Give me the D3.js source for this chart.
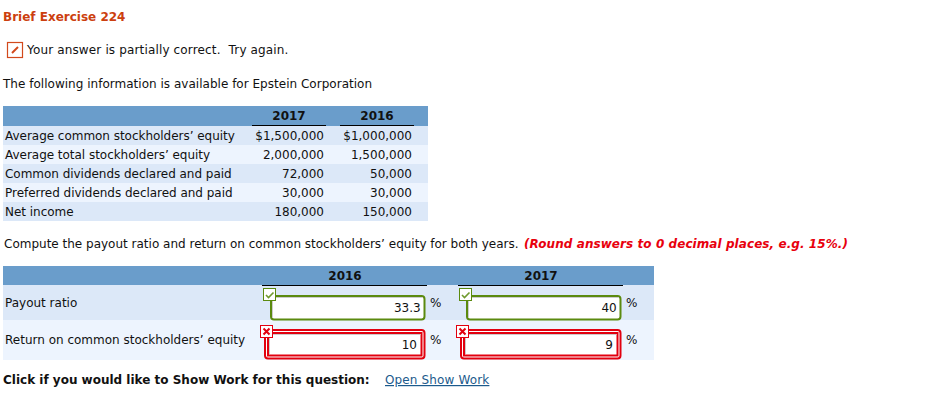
<!DOCTYPE html>
<html><head><meta charset="utf-8">
<script src="https://cdn.jsdelivr.net/npm/d3@7/dist/d3.min.js"></script>
<style>
html,body{margin:0;padding:0;background:#fff}
svg{display:block}
text{font-family:"DejaVu Sans",sans-serif;font-size:12px;fill:#111}
</style></head><body>
<svg id="c" width="939" height="413"></svg>
<script>
const infoYears = ["2017","2016"];
const infoRows = ["Average common stockholders’ equity","Average total stockholders’ equity","Common dividends declared and paid","Preferred dividends declared and paid","Net income"];
const values2017 = ["$1,500,000","2,000,000","72,000","30,000","180,000"];
const values2016 = ["$1,000,000","1,500,000","50,000","30,000","150,000"];
const answerYears = ["2016","2017"];
const answerRows = ["Payout ratio","Return on common stockholders’ equity"];
const answers2016 = ["33.3","10"];
const answers2017 = ["40","9"];
const answerOk = [true,false];

const svg = d3.select("#c");
const txt=(x,y,s,o={})=>{const t=svg.append("text").attr("x",x).attr("y",y).text(s);
  Object.entries(o).forEach(([k,v])=>t.style(k,v)); return t;};
const rect=(x,y,w,h,f,o={})=>{const r=svg.append("rect").attr("x",x).attr("y",y).attr("width",w).attr("height",h).attr("fill",f);
  Object.entries(o).forEach(([k,v])=>r.attr(k,v)); return r;};

txt(3,21,"Brief Exercise 224",{"font-weight":"bold",fill:"#cc3f0f"});
rect(7.5,42.5,15,15,"#fff",{stroke:"#d2491c","stroke-width":1.2});
svg.append("line").attr("x1",12).attr("y1",53).attr("x2",18).attr("y2",47).attr("stroke","#d2491c").attr("stroke-width",2);
txt(27,54,"Your answer is partially correct.  Try again.",{"white-space":"pre","letter-spacing":"0.15px"});
txt(3,88,"The following information is available for Epstein Corporation",{"letter-spacing":"0.02px"});

// top table
const headBlue="#6a9dcb", rowA="#dce8f8", rowB="#edf4fe";
rect(3,106,425,20,headBlue);
const y1=d3.scaleBand().domain(infoRows).range([126,221]);
svg.selectAll(".r1").data(infoRows).join("rect").attr("x",3).attr("width",425)
  .attr("y",d=>y1(d)).attr("height",y1.bandwidth()).attr("fill",(d,i)=>i%2?rowB:rowA);
svg.selectAll(".l1").data(infoRows).join("text").attr("x",5).attr("y",d=>y1(d)+14).text(d=>d).style("letter-spacing","-0.03px");
const x1=d3.scaleOrdinal().domain(infoYears).range([252,340]);
infoYears.forEach((yr,k)=>{
  const x=x1(yr);
  txt(x+37,120,yr,{"font-weight":"bold"}).attr("text-anchor","middle");
  svg.append("line").attr("x1",x).attr("x2",x+74).attr("y1",125.5).attr("y2",125.5).attr("stroke","#000");
  const vals=k?values2016:values2017;
  svg.selectAll(".v"+k).data(vals).join("text").attr("x",x+72).attr("text-anchor","end")
    .attr("y",(d,i)=>y1(infoRows[i])+14).text(d=>d);
});

txt(4,248,"Compute the payout ratio and return on common stockholders’ equity for both years. ");
txt(524,248,"(Round answers to 0 decimal places, e.g. 15%.)",{"font-weight":"bold","font-style":"italic",fill:"#e8000d","letter-spacing":"0.07px"});

// answer table
rect(3,266,651,19,headBlue);
const y2=d3.scaleOrdinal().domain(answerRows).range([285,320]);
const h2=[35,40];
answerRows.forEach((r,i)=>{
  rect(3,y2(r),651,h2[i],i?rowB:rowA);
  txt(5,i?344:307,r);
});
const x2=d3.scaleOrdinal().domain(answerYears).range([262,458]);
answerYears.forEach((yr,k)=>{
  const x=x2(yr);
  txt(x+83,280,yr,{"font-weight":"bold"}).attr("text-anchor","middle");
  svg.append("line").attr("x1",x).attr("x2",x+165).attr("y1",285.5).attr("y2",285.5).attr("stroke","#000");
  const vals=k?answers2017:answers2016;
  answerRows.forEach((r,i)=>{
    if(answerOk[i]){
      rect(x+9,296,153.5,23.5,"#fff",{stroke:"#5b8a0f","stroke-width":2,rx:3});
      svg.append("path").attr("d",`M${x+10.5} 318V297.5H${x+161}`).attr("fill","none").attr("stroke","#ccc");
      rect(x+1.5,288.5,12,12,"#fff",{stroke:"#5b8a0f","stroke-width":1});
      svg.append("path").attr("d",`M${x+4} 295l2.5 2.5l5-5`).attr("fill","none").attr("stroke","#6f9a2e").attr("stroke-width",1.6);
    } else {
      rect(x+3,330,159.5,28.5,"#fff",{stroke:"#e2000f","stroke-width":2,rx:3});
      rect(x+6,333,153.5,22.5,"#fff",{stroke:"#e2000f","stroke-width":2});
      svg.append("path").attr("d",`M${x+7.5} 354V334.5H${x+158.5}`).attr("fill","none").attr("stroke","#ccc");
      rect(x-1.5,325.5,12,12,"#fff",{stroke:"#e2000f","stroke-width":1});
      svg.append("path").attr("d",`M${x+1.5} 328.5l6 6m0 -6l-6 6`).attr("fill","none").attr("stroke","#e2000f").attr("stroke-width",2);
    }
    txt(x+(i?155:158.7),i?349:312,vals[i]).attr("text-anchor","end");
    txt(x+168,i?344:307,"%");
  });
});

txt(3,384,"Click if you would like to Show Work for this question:",{"font-weight":"bold"});
txt(385,384,"Open Show Work",{fill:"#1c5a8c","text-decoration":"underline","letter-spacing":"0.14px"});
</script></body></html>
